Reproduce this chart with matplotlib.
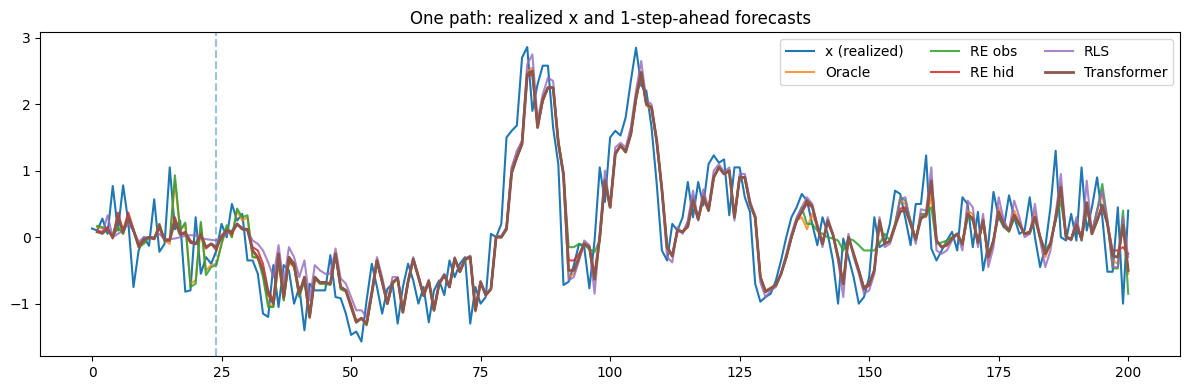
import numpy as np
import matplotlib
matplotlib.use("Agg")
import matplotlib.pyplot as plt

# -------------------- DATA --------------------
x_realized = [
    0.13, 0.1, 0.28, 0.05, 0.77, 0.1, 0.78, 0.23, -0.75, -0.2,
    0.0, -0.13, 0.57, -0.22, -0.1, 1.05, 0.12, 0.25, -0.82, -0.8,
    0.3, -0.55, -0.3, -0.4, -0.2, 0.2, 0.0, 0.5, 0.25, 0.35,
    -0.35, -0.35, -0.55, -1.15, -1.2, -0.42, -1.05, -0.42, -0.5, -1.0,
    -0.75, -1.4, -0.7, -0.8, -0.8, -0.8, -0.27, -0.9, -0.92, -1.15,
    -1.47, -1.42, -1.57, -0.95, -0.4, -0.75, -1.15, -0.78, -0.7, -1.3,
    -0.75, -0.4, -0.65, -1.0, -0.75, -1.28, -0.8, -0.65, -0.87, -0.35,
    -0.6, -0.4, -0.3, -1.3, -0.75, -1.0, -0.9, 0.05, 0.0, 0.2,
    1.5, 1.6, 1.68, 2.7, 2.86, 1.9, 2.3, 2.58, 2.58, 1.65,
    1.1, -0.72, -0.67, -0.42, -0.1, -0.15, -0.77, -0.05, 1.05, 0.53,
    1.5, 1.6, 1.53, 1.8, 2.35, 2.85, 2.28, 2.2, 1.65, 0.8,
    -0.2, -0.35, 0.2, 0.1, 0.3, 0.83, 0.3, 0.83, 0.48, 1.1,
    1.23, 1.12, 1.17, 0.33, 1.05, 1.05, 0.6, 0.38, -0.7, -0.97,
    -0.9, -0.85, -0.65, -0.35, 0.0, 0.3, 0.45, 0.65, 0.55, 0.2,
    -0.12, 0.3, 0.05, -0.35, -1.0, -0.02, -0.3, -0.6, -1.0, -0.9,
    -0.6, 0.3, -0.15, -0.1, 0.2, 0.7, 0.65, 0.28, -0.12, 0.5,
    0.5, 1.23, -0.17, -0.35, -0.2, -0.05, 0.08, -0.2, 0.6, 0.5,
    -0.15, 0.38, -0.5, -0.1, 0.68, 0.3, 0.15, 0.63, 0.3, 0.05,
    0.1, 0.6, 0.0, -0.45, -0.15, 0.45, 1.3, 0.0, -0.05, 0.35,
    -0.05, 1.05, 0.1, 0.45, 0.9, 0.3, -0.52, -0.52, 0.45, -1.0,
    0.4,
]

# forecasts exist for t = 1..200
oracle = [
    0.15, 0.13, 0.1, 0.02, 0.15, 0.05, 0.28, 0.1, -0.13, -0.08,
    0.0, -0.03, 0.2, -0.05, -0.1, 0.85, 0.1, 0.2, -0.7, -0.65,
    0.2, -0.5, -0.42, -0.4, -0.1, 0.15, 0.0, 0.4, 0.25, 0.3,
    -0.3, -0.32, -0.55, -1.0, -1.05, -0.38, -0.95, -0.38, -0.45, -0.88,
    -0.65, -1.22, -0.62, -0.7, -0.7, -0.7, -0.25, -0.78, -0.8, -1.0,
    -1.25, -1.22, -1.33, -0.85, -0.38, -0.66, -1.0, -0.7, -0.62, -1.12,
    -0.68, -0.35, -0.58, -0.88, -0.66, -1.1, -0.7, -0.58, -0.75, -0.33,
    -0.52, -0.35, -0.28, -1.12, -0.66, -0.88, -0.78, 0.02, 0.0, 0.15,
    1.05, 1.25, 1.45, 2.5, 2.55, 1.7, 2.05, 2.25, 2.25, 1.45,
    0.95, -0.6, -0.55, -0.35, -0.08, -0.15, -0.65, -0.02, 0.88, 0.45,
    1.28, 1.36, 1.32, 1.55, 2.05, 2.45, 1.98, 1.92, 1.42, 0.7,
    -0.18, -0.3, 0.12, 0.08, 0.22, 0.62, 0.27, 0.65, 0.42, 0.92,
    1.05, 0.97, 1.0, 0.3, 0.88, 0.9, 0.52, 0.33, -0.6, -0.8,
    -0.76, -0.72, -0.55, -0.3, 0.0, 0.25, 0.3, 0.12, 0.35, 0.15,
    -0.08, 0.22, 0.04, -0.28, -0.72, 0.0, -0.25, -0.5, -0.78, -0.7,
    -0.48, 0.25, -0.1, -0.06, 0.2, 0.55, 0.5, 0.22, -0.05, 0.35,
    0.3, 0.6, -0.05, -0.15, -0.1, -0.02, 0.05, -0.12, 0.4, 0.35,
    -0.1, 0.28, -0.35, -0.05, 0.45, 0.2, 0.1, 0.4, 0.22, 0.05,
    0.08, 0.38, 0.0, -0.3, -0.1, 0.3, 0.8, 0.0, -0.03, 0.25,
    -0.05, 0.5, 0.08, 0.4, 0.65, 0.2, -0.35, -0.4, 0.3, -0.55,
]

re_obs = [
    0.17, 0.15, 0.12, 0.0, 0.15, 0.05, 0.3, 0.1, -0.15, -0.1,
    0.0, -0.03, 0.2, -0.05, -0.05, 0.93, 0.1, 0.22, -0.75, -0.7,
    0.23, -0.57, -0.45, -0.42, -0.1, 0.18, 0.0, 0.43, 0.3, 0.33,
    -0.3, -0.3, -0.6, -1.05, -1.05, -0.35, -0.95, -0.35, -0.45, -0.9,
    -0.65, -1.2, -0.62, -0.7, -0.7, -0.72, -0.25, -0.78, -0.82, -1.02,
    -1.27, -1.22, -1.32, -0.85, -0.37, -0.67, -1.0, -0.7, -0.62, -1.12,
    -0.68, -0.34, -0.6, -0.88, -0.66, -1.1, -0.7, -0.57, -0.75, -0.33,
    -0.52, -0.35, -0.3, -1.1, -0.67, -0.87, -0.78, 0.02, 0.0, 0.13,
    1.0, 1.22, 1.42, 2.45, 2.5, 1.68, 2.05, 2.25, 2.25, 1.45,
    0.95, -0.15, -0.15, -0.1, -0.12, -0.18, -0.22, -0.05, 0.85, 0.45,
    1.25, 1.38, 1.3, 1.55, 2.08, 2.45, 2.0, 1.95, 1.45, 0.72,
    -0.15, -0.28, 0.1, 0.08, 0.18, 0.58, 0.27, 0.62, 0.4, 0.9,
    1.05, 0.95, 1.0, 0.3, 0.9, 0.9, 0.5, 0.3, -0.6, -0.82,
    -0.77, -0.72, -0.55, -0.3, 0.0, 0.25, 0.45, 0.2, 0.2, 0.1,
    0.05, 0.0, -0.02, -0.05, -0.2, -0.02, -0.05, -0.12, -0.2, -0.2,
    -0.2, -0.1, 0.05, -0.05, 0.2, 0.6, 0.55, 0.25, -0.05, 0.35,
    0.35, 0.45, -0.1, -0.08, -0.05, 0.0, 0.05, -0.1, 0.3, 0.25,
    -0.05, 0.2, -0.25, -0.05, 0.35, 0.15, 0.08, 0.28, 0.18, 0.05,
    0.05, 0.28, 0.0, -0.2, -0.08, 0.25, 0.55, 0.02, -0.03, 0.22,
    -0.05, 0.45, 0.08, 0.4, 0.8, 0.25, -0.47, -0.47, 0.4, -0.85,
]

re_hid = [
    0.1, 0.08, 0.15, -0.02, 0.37, 0.1, 0.37, 0.12, -0.15, -0.05,
    0.0, -0.03, 0.18, -0.05, -0.05, 0.3, 0.05, 0.08, -0.05, -0.1,
    0.05, -0.17, -0.1, -0.2, 0.03, 0.1, 0.05, 0.2, 0.13, 0.1,
    -0.15, -0.2, -0.4, -0.8, -0.95, -0.3, -0.9, -0.35, -0.42, -0.85,
    -0.62, -1.18, -0.6, -0.68, -0.68, -0.7, -0.25, -0.75, -0.8, -1.02,
    -1.27, -1.22, -1.3, -0.85, -0.36, -0.67, -1.0, -0.68, -0.62, -1.13,
    -0.67, -0.33, -0.6, -0.88, -0.66, -1.1, -0.7, -0.57, -0.75, -0.32,
    -0.52, -0.33, -0.3, -1.1, -0.68, -0.87, -0.78, 0.0, 0.0, 0.12,
    0.97, 1.2, 1.4, 2.42, 2.45, 1.65, 2.05, 2.25, 2.25, 1.42,
    0.95, -0.35, -0.35, -0.25, -0.1, -0.15, -0.55, 0.0, 0.85, 0.45,
    1.25, 1.38, 1.28, 1.55, 2.1, 2.45, 2.0, 1.95, 1.45, 0.72,
    -0.15, -0.28, 0.1, 0.08, 0.16, 0.55, 0.27, 0.6, 0.4, 0.9,
    1.05, 0.95, 1.0, 0.3, 0.9, 0.9, 0.5, 0.3, -0.6, -0.82,
    -0.77, -0.72, -0.55, -0.3, 0.0, 0.25, 0.38, 0.5, 0.45, 0.17,
    -0.1, 0.25, 0.04, -0.3, -0.7, 0.0, -0.25, -0.5, -0.75, -0.7,
    -0.5, 0.22, -0.1, -0.06, 0.17, 0.43, 0.45, 0.22, -0.03, 0.3,
    0.33, 0.8, -0.05, -0.15, -0.12, -0.02, 0.05, -0.1, 0.35, 0.28,
    -0.08, 0.25, -0.3, -0.05, 0.38, 0.18, 0.1, 0.33, 0.2, 0.05,
    0.08, 0.3, 0.0, -0.25, -0.1, 0.28, 0.72, 0.0, -0.03, 0.18,
    -0.02, 0.5, 0.05, 0.25, 0.45, 0.2, -0.2, -0.2, -0.15, -0.25,
]

rls = [
    0.1, 0.05, 0.33, 0.0, 0.05, 0.1, 0.2, 0.1, -0.07, 0.0,
    0.0, 0.0, 0.05, -0.03, -0.03, -0.02, 0.0, 0.02, 0.03, 0.03,
    -0.02, -0.03, -0.04, -0.05, 0.0, 0.05, 0.1, 0.18, 0.15, 0.1,
    -0.05, -0.1, -0.2, -0.38, -0.6, -0.12, -0.7, -0.15, -0.3, -0.6,
    -0.35, -0.95, -0.42, -0.5, -0.55, -0.55, -0.17, -0.62, -0.7, -0.9,
    -1.1, -1.1, -1.2, -0.8, -0.3, -0.6, -0.98, -0.6, -0.6, -1.1,
    -0.65, -0.3, -0.58, -0.86, -0.64, -1.08, -0.68, -0.55, -0.72, -0.3,
    -0.5, -0.32, -0.28, -1.08, -0.66, -0.86, -0.77, 0.02, 0.02, 0.15,
    1.05, 1.3, 1.45, 2.6, 2.75, 1.75, 2.15, 2.4, 2.35, 1.4,
    0.9, -0.65, -0.6, -0.35, -0.05, -0.12, -0.85, 0.05, 1.0, 0.45,
    1.35, 1.42, 1.35, 1.65, 2.2, 2.65, 2.05, 2.0, 1.42, 0.68,
    -0.3, -0.38, 0.15, 0.05, 0.25, 0.7, 0.25, 0.72, 0.42, 1.0,
    1.1, 0.98, 1.05, 0.25, 0.95, 0.95, 0.55, 0.3, -0.68, -0.9,
    -0.8, -0.75, -0.55, -0.25, 0.05, 0.3, 0.45, 0.6, 0.5, 0.15,
    -0.15, 0.3, 0.05, -0.35, -0.9, 0.05, -0.3, -0.55, -0.85, -0.8,
    -0.55, 0.3, -0.15, -0.1, 0.15, 0.58, 0.6, 0.2, -0.1, 0.42,
    0.4, 1.05, -0.2, -0.25, -0.2, -0.05, 0.05, -0.2, 0.55, 0.45,
    -0.15, 0.35, -0.45, -0.15, 0.6, 0.25, 0.1, 0.55, 0.3, 0.0,
    0.05, 0.5, -0.05, -0.45, -0.2, 0.35, 0.95, 0.0, -0.05, 0.3,
    -0.05, 0.85, 0.05, 0.4, 0.7, 0.25, -0.45, -0.45, 0.3, -0.3,
]

transformer = [
    0.08, 0.06, 0.12, 0.0, 0.3, 0.08, 0.3, 0.1, -0.12, -0.04,
    0.0, -0.02, 0.15, -0.04, -0.04, 0.25, 0.04, 0.06, -0.08, -0.1,
    0.03, -0.15, -0.1, -0.15, 0.0, 0.1, 0.08, 0.2, 0.12, 0.12,
    -0.2, -0.3, -0.5, -0.85, -1.0, -0.25, -0.9, -0.3, -0.4, -0.85,
    -0.6, -1.2, -0.6, -0.68, -0.68, -0.7, -0.25, -0.75, -0.8, -1.05,
    -1.28, -1.22, -1.3, -0.85, -0.35, -0.67, -1.0, -0.68, -0.62, -1.13,
    -0.67, -0.33, -0.6, -0.88, -0.66, -1.1, -0.7, -0.57, -0.75, -0.32,
    -0.52, -0.33, -0.3, -1.1, -0.68, -0.87, -0.78, 0.0, 0.0, 0.12,
    0.97, 1.2, 1.4, 2.45, 2.5, 1.65, 2.08, 2.25, 2.25, 1.42,
    0.95, -0.5, -0.5, -0.3, -0.1, -0.15, -0.63, 0.0, 0.85, 0.45,
    1.25, 1.38, 1.28, 1.55, 2.1, 2.48, 2.0, 1.95, 1.45, 0.72,
    -0.15, -0.28, 0.1, 0.08, 0.16, 0.55, 0.27, 0.6, 0.4, 0.9,
    1.05, 0.95, 1.0, 0.3, 0.9, 0.9, 0.5, 0.3, -0.6, -0.82,
    -0.77, -0.72, -0.55, -0.3, 0.0, 0.25, 0.38, 0.55, 0.47, 0.17,
    -0.1, 0.25, 0.04, -0.3, -0.7, 0.0, -0.25, -0.5, -0.78, -0.72,
    -0.5, 0.25, -0.1, -0.06, 0.17, 0.38, 0.42, 0.2, -0.03, 0.28,
    0.33, 0.85, -0.05, -0.15, -0.12, -0.02, 0.05, -0.1, 0.35, 0.28,
    -0.08, 0.25, -0.3, -0.05, 0.38, 0.18, 0.1, 0.33, 0.2, 0.05,
    0.08, 0.3, 0.0, -0.25, -0.1, 0.28, 0.75, 0.0, -0.03, 0.18,
    -0.02, 0.52, 0.05, 0.25, 0.48, 0.2, -0.28, -0.3, 0.18, -0.5,
]

TRAIN_END = 24

# -------------------- PLOT --------------------
t_x = np.arange(len(x_realized))
t_f = np.arange(1, len(transformer) + 1)

fig, ax = plt.subplots(figsize=(12, 4))
ax.plot(t_x, x_realized, label='x (realized)', lw=1.5)
ax.plot(t_f, oracle, label='Oracle', lw=1.5, alpha=0.8)
ax.plot(t_f, re_obs, label='RE obs', lw=1.5, alpha=0.85)
ax.plot(t_f, re_hid, label='RE hid', lw=1.5, alpha=0.85)
ax.plot(t_f, rls, label='RLS', lw=1.5, alpha=0.8)
ax.plot(t_f, transformer, label='Transformer', lw=2.0)
ax.axvline(TRAIN_END, ls='--', color='C0', alpha=0.45, lw=1.5)
ax.set_title('One path: realized x and 1-step-ahead forecasts')
ax.legend(ncol=3, loc='upper right')
plt.tight_layout()
plt.savefig('out.png', dpi=100, bbox_inches='tight')
